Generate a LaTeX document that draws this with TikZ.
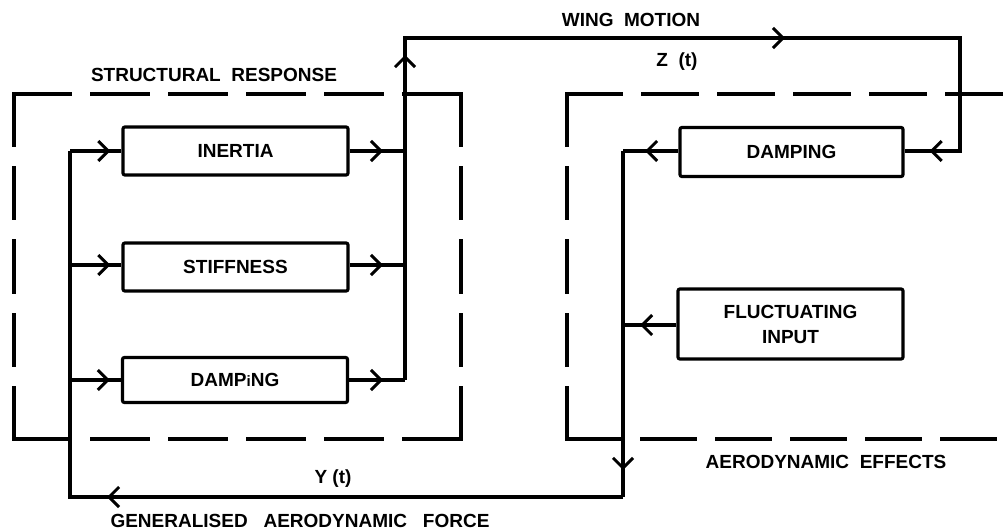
\documentclass[tikz,border=0pt]{standalone}
\usepackage{fontspec}
\setmainfont{Liberation Sans}
\usetikzlibrary{arrows.meta,decorations.markings}
\tikzset{
  lw/.style={line width=3.2pt},
  blk/.style={draw,lw,rounded corners=2pt,minimum width=225pt,minimum height=48pt,inner sep=0pt,align=center,font=\fontsize{19}{25}\selectfont\bfseries},
  lbl/.style={font=\fontsize{19}{22}\selectfont\bfseries,inner sep=0pt},
  grp/.style={line width=3.2pt,line cap=rect,dash pattern=#1},
  wire/.style={lw,line join=miter},
  tipa/.tip={Straight Barb[length=10pt,width=20pt,line width=3pt]},
  midarr/.style={postaction={decorate},decoration={markings,mark=at position #1 with {\arrow{tipa}}}},
  midarrtwo/.style 2 args={postaction={decorate},decoration={markings,mark=at position #1 with {\arrow{tipa}},mark=at position #2 with {\arrow{tipa}}}}
}
\begin{document}
\begin{tikzpicture}[x=1pt,y=-1pt]
\useasboundingbox (0,0) rectangle (1007,532);
\fill[white] (0,0) rectangle (1007,532);
% structural response frame
\coordinate (sTL) at (14,94);
\coordinate (sTR) at (461,94);
\coordinate (sBL) at (14,439);
\coordinate (sBR) at (461,439);
\draw[grp={on 56pt off 22pt}] (sTL) -- (sTR);
\draw[grp={on 56pt off 22pt}] (sBL) -- (sBR);
\draw[grp={on 51pt off 22.5pt}] (sTL) -- (sBL);
\draw[grp={on 51pt off 22.5pt}] (sTR) -- (sBR);
% aerodynamic effects frame
\coordinate (aTL) at (567,94);
\coordinate (aTR) at (1002,94);
\coordinate (aBL) at (567,439);
\coordinate (aBR) at (996,439);
\draw[grp={on 54pt off 22pt}] (aTL) -- (aTR);
\draw[grp={on 53pt off 22pt}] (aBL) -- (aBR);
\draw[grp={on 51pt off 22.5pt}] (aTL) -- (aBL);
% blocks
\node[blk] (inertia) at (235.5,151) {INERTIA};
\node[blk] (stiff) at (235.5,267) {STIFFNESS};
\node[blk,minimum height=45pt] (dampL) at (235,380) {DAMP{\fontsize{15}{18}\selectfont i}NG};
\node[blk,minimum width=223pt,minimum height=49pt] (dampR) at (791.5,152) {DAMPING};
\node[blk,minimum height=70pt] (fluct) at (790.5,324) {FLUCTUATING\\INPUT};
% coordinates
\coordinate (inL) at (70,151);
\coordinate (inS) at (70,265);
\coordinate (inD) at (70,380);
\coordinate (fbL) at (70,497);
\coordinate (fbR) at (623,497);
\coordinate (outI) at (405,151);
\coordinate (outS) at (405,265);
\coordinate (outD) at (405,380);
\coordinate (top) at (405,38);
\coordinate (topR) at (960,38);
\coordinate (inR) at (960,151);
\coordinate (colR) at (623,151);
\coordinate (colF) at (623,325);
% left inputs
\draw[wire,midarr=-11pt] (inL) -- (inertia.west |- inL);
\draw[wire,midarr=-11pt] (inS) -- (stiff.west |- inS);
\draw[wire,midarr=-11pt] (inD) -- (dampL.west |- inD);
% left outputs
\draw[wire,midarr=-22pt] (inertia.east |- outI) -- (outI);
\draw[wire,midarr=-22pt] (stiff.east |- outS) -- (outS);
\draw[wire,midarr=-22pt] (dampL.east |- outD) -- (outD);
% wing motion path
\draw[wire,midarrtwo={325pt}{722pt}] (outD) -- (top) -- (topR) -- (inR) -- (dampR.east |- inR);
\draw[wire,midarr=-25pt] (inR) -- (dampR.east |- inR);
% aerodynamic effects outputs
\draw[wire,midarr=-22pt] (dampR.west |- colR) -- (colR);
\draw[wire,midarr=-17pt] (fluct.west |- colF) -- (colF);
\draw[wire,midarr=-27pt] (colR) -- (fbR);
% feedback
\draw[wire,midarr=516pt] (fbR) -- (fbL) -- (inL);
% labels
\node[lbl] (lsr) at (214,75) {STRUCTURAL\ \ RESPONSE};
\node[lbl] (lwm) at (631,20) {WING\ \ MOTION};
\node[lbl] (lz) at (677,62) {Z\ \ (t)};
\node[lbl] (ly) at (333,479) {Y (t)};
\node[lbl] (lgf) at (300,521) {GENERALISED\ \ \ AERODYNAMIC\ \ \ FORCE};
\node[lbl] (lae) at (826,462) {AERODYNAMIC\ \ EFFECTS};
\end{tikzpicture}
\end{document}
